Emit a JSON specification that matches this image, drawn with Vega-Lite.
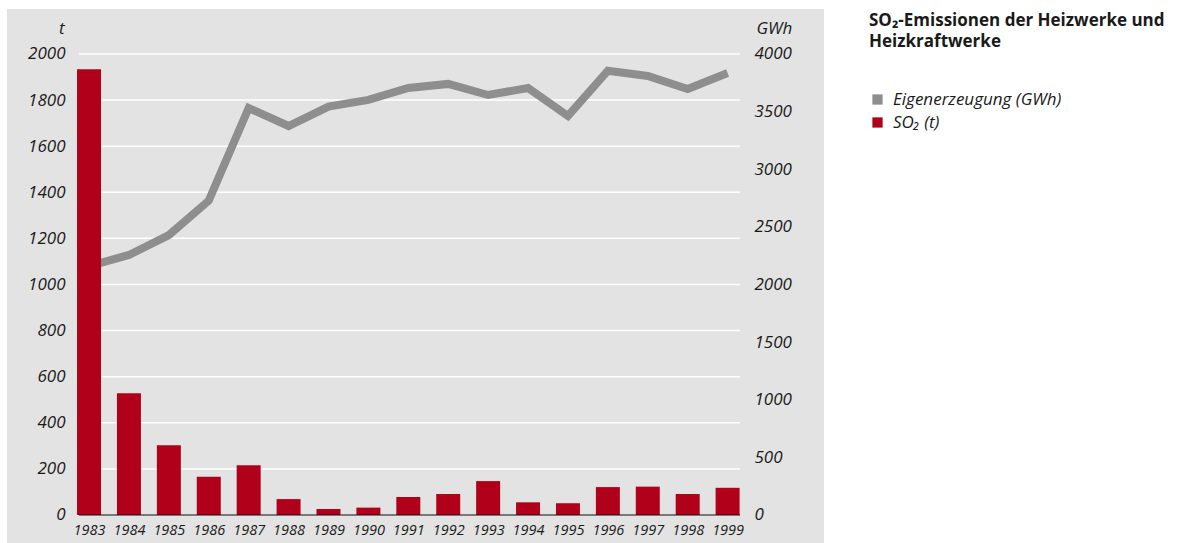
{
  "$schema": "https://vega.github.io/schema/vega-lite/v6.json",
  "width": 817,
  "height": 534,
  "autosize": {"type": "none"},
  "padding": {"left": 7, "top": 9, "right": 362, "bottom": 0},
  "background": "white",
  "config": {
    "view": {"fill": "#E3E3E3", "stroke": null},
    "font": "Open Sans",
    "axis": {"labelColor": "#1a1a1a", "titleColor": "#1a1a1a", "labelFontStyle": "italic", "titleFontStyle": "italic", "titleFontWeight": "normal"}
  },
  "datasets": {
    "main": [
      {"year": 1983, "so2": 1934, "gwh": 2160},
      {"year": 1984, "so2": 528, "gwh": 2256},
      {"year": 1985, "so2": 302, "gwh": 2429},
      {"year": 1986, "so2": 166, "gwh": 2727},
      {"year": 1987, "so2": 216, "gwh": 3531},
      {"year": 1988, "so2": 69, "gwh": 3375},
      {"year": 1989, "so2": 26, "gwh": 3543},
      {"year": 1990, "so2": 32, "gwh": 3601},
      {"year": 1991, "so2": 78, "gwh": 3705},
      {"year": 1992, "so2": 91, "gwh": 3740},
      {"year": 1993, "so2": 147, "gwh": 3644},
      {"year": 1994, "so2": 55, "gwh": 3705},
      {"year": 1995, "so2": 51, "gwh": 3462},
      {"year": 1996, "so2": 121, "gwh": 3855},
      {"year": 1997, "so2": 123, "gwh": 3809},
      {"year": 1998, "so2": 91, "gwh": 3696},
      {"year": 1999, "so2": 118, "gwh": 3835}
    ],
    "grid": [
      {"v": 200}, {"v": 400}, {"v": 600}, {"v": 800}, {"v": 1000},
      {"v": 1200}, {"v": 1400}, {"v": 1600}, {"v": 1800}, {"v": 2000}
    ]
  },
  "layer": [
    {
      "data": {"name": "grid"},
      "mark": {"type": "rule", "color": "white", "strokeWidth": 1.5},
      "encoding": {
        "y": {"field": "v", "type": "quantitative", "scale": {"domain": [-121.5, 2195], "nice": false, "zero": false}, "axis": null},
        "x": {"datum": 1982.75, "type": "quantitative", "scale": {"domain": [1981.07, 2001.29], "nice": false, "zero": false},
          "axis": {"orient": "bottom", "offset": -28, "values": [1983, 1984, 1985, 1986, 1987, 1988, 1989, 1990, 1991, 1992, 1993, 1994, 1995, 1996, 1997, 1998, 1999], "format": "d", "grid": false, "domain": false, "ticks": false, "labelPadding": 8, "labelFontSize": 14.5, "labelOverlap": false, "title": null}},
        "x2": {"datum": 1999.31}
      }
    },
    {
      "data": {"name": "main"},
      "mark": {"type": "line", "strokeWidth": 8, "strokeJoin": "miter", "strokeCap": "butt"},
      "encoding": {
        "x": {"field": "year", "type": "quantitative", "scale": {"domain": [1981.07, 2001.29], "nice": false, "zero": false},
          "axis": {"orient": "bottom", "offset": -28, "values": [1983, 1984, 1985, 1986, 1987, 1988, 1989, 1990, 1991, 1992, 1993, 1994, 1995, 1996, 1997, 1998, 1999], "format": "d", "grid": false, "domain": false, "ticks": false, "labelPadding": 8, "labelFontSize": 14.5, "labelOverlap": false, "title": null}},
        "y": {"field": "gwh", "type": "quantitative", "scale": {"domain": [-243, 4390], "nice": false, "zero": false},
          "axis": {"orient": "right", "offset": -80, "values": [0, 500, 1000, 1500, 2000, 2500, 3000, 3500, 4000], "format": "d", "grid": false, "domain": false, "ticks": false, "labelPadding": 10, "labelFontSize": 17, "labelAlign": "left", "title": "GWh", "titleAngle": 0, "titleAlign": "left", "titleBaseline": "alphabetic", "titleX": 12, "titleY": 24, "titleFontSize": 17}},
        "color": {"datum": "Eigenerzeugung (GWh)", "type": "nominal",
          "scale": {"domain": ["Eigenerzeugung (GWh)", "SO₂ (t)"], "range": ["#8E8E8E", "#B1001A"]},
          "legend": {
            "orient": "none", "legendX": 862, "legendY": 4,
            "title": ["SO₂-Emissionen der Heizwerke und", "Heizkraftwerke"],
            "titleFontSize": 17, "titleFontWeight": "bold", "titleColor": "#1a1a1a", "titleLimit": 400, "titleLineHeight": 21, "titlePadding": 40,
            "labelFontSize": 17, "labelFontStyle": "italic", "labelColor": "#1a1a1a", "labelLimit": 300, "labelOffset": 7,
            "symbolType": "square", "symbolSize": 105, "symbolStrokeWidth": 0, "rowPadding": 5,
            "encode": {"symbols": {"update": {"fill": {"scale": "color", "field": "value"}, "strokeWidth": {"value": 0}, "opacity": {"value": 1}}}}
          }}
      }
    },
    {
      "data": {"name": "main"},
      "mark": {"type": "bar", "size": 24},
      "encoding": {
        "x": {"field": "year", "type": "quantitative", "scale": {"domain": [1981.07, 2001.29], "nice": false, "zero": false},
          "axis": {"orient": "bottom", "offset": -28, "values": [1983, 1984, 1985, 1986, 1987, 1988, 1989, 1990, 1991, 1992, 1993, 1994, 1995, 1996, 1997, 1998, 1999], "format": "d", "grid": false, "domain": false, "ticks": false, "labelPadding": 8, "labelFontSize": 14.5, "labelOverlap": false, "title": null}},
        "y": {"field": "so2", "type": "quantitative", "scale": {"domain": [-121.5, 2195], "nice": false, "zero": false},
          "axis": {"orient": "left", "offset": -66, "values": [0, 200, 400, 600, 800, 1000, 1200, 1400, 1600, 1800, 2000], "format": "d", "grid": false, "domain": false, "ticks": false, "labelPadding": 8, "labelFontSize": 17, "title": "t", "titleAngle": 0, "titleAlign": "right", "titleBaseline": "alphabetic", "titleX": -9, "titleY": 24, "titleFontSize": 17}},
        "y2": {"datum": 0},
        "color": {"datum": "SO₂ (t)", "type": "nominal"}
      }
    },
    {
      "data": {"values": [{"z": 0}]},
      "mark": {"type": "rule", "color": "#111111", "strokeWidth": 1.2},
      "encoding": {
        "y": {"field": "z", "type": "quantitative", "scale": {"domain": [-121.5, 2195], "nice": false, "zero": false}, "axis": null},
        "x": {"datum": 1982.75, "type": "quantitative", "scale": {"domain": [1981.07, 2001.29], "nice": false, "zero": false},
          "axis": {"orient": "bottom", "offset": -28, "values": [1983, 1984, 1985, 1986, 1987, 1988, 1989, 1990, 1991, 1992, 1993, 1994, 1995, 1996, 1997, 1998, 1999], "format": "d", "grid": false, "domain": false, "ticks": false, "labelPadding": 8, "labelFontSize": 14.5, "labelOverlap": false, "title": null}},
        "x2": {"datum": 1999.31}
      }
    }
  ],
  "resolve": {"scale": {"y": "independent"}}
}
